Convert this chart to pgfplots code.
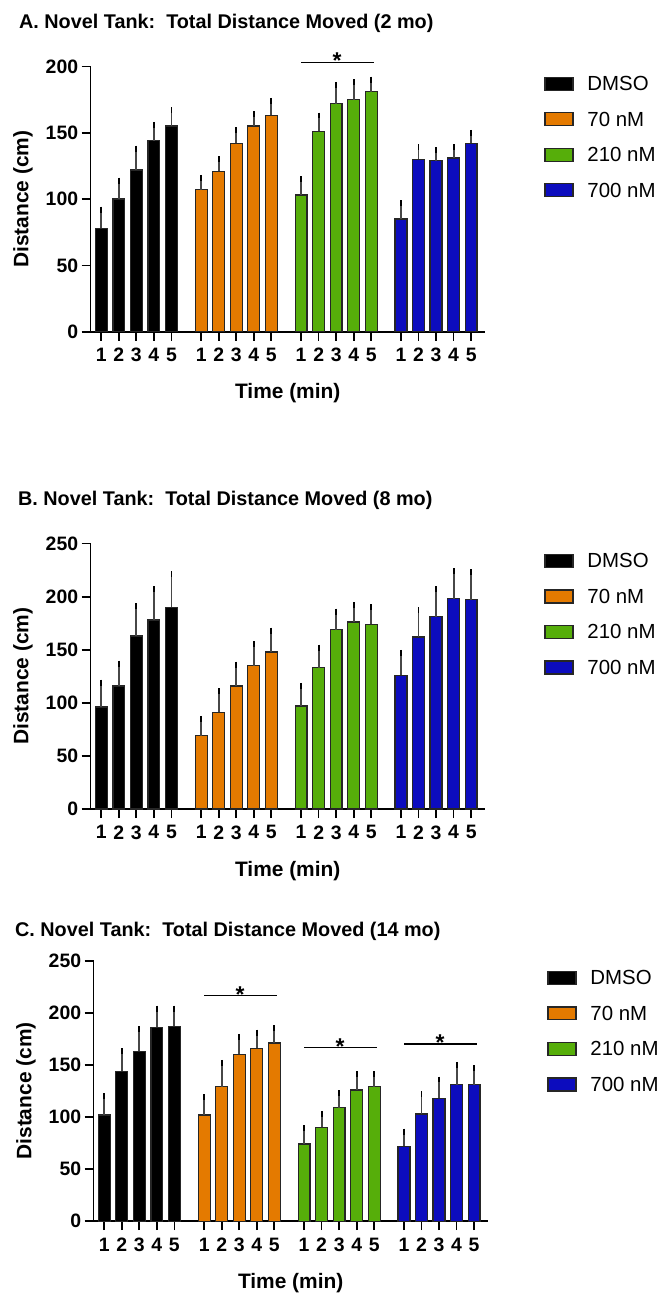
\documentclass[border=0pt]{standalone}
\usepackage{fontspec}
\setmainfont{Liberation Sans}
\setsansfont{Liberation Sans}
\usepackage{pgfplots}
\pgfplotsset{compat=1.18}
\definecolor{cOr}{RGB}{228,122,0}
\definecolor{cGr}{RGB}{86,174,10}
\definecolor{cBl}{RGB}{12,12,190}
\newcommand{\tfont}{\bfseries\fontsize{19.9}{22}\selectfont}
\newcommand{\afont}{\bfseries\fontsize{23}{23}\selectfont}
\pgfplotsset{
  panel/.style={
    scale only axis, width=396pt,
    xmin=-0.61, xmax=21.88, ymin=0,
    axis x line*=bottom, axis y line*=left,
    axis line style={-, line width=1.8pt, black},
    tick align=outside, major tick length=9pt,
    tick style={line width=1.7pt, black},
    xtick={0,1,2,3,4,5.7,6.7,7.7,8.7,9.7,11.4,12.4,13.4,14.4,15.4,17.1,18.1,19.1,20.1,21.1},
    xticklabels={1,2,3,4,5,1,2,3,4,5,1,2,3,4,5,1,2,3,4,5},
    /pgf/number format/assume math mode=true,
    tick label style={font=\bfseries\fontsize{19.5}{19.5}\selectfont},
    xticklabel style={yshift=-4pt},
    xlabel={Time (min)}, ylabel={Distance (cm)},
    label style={font=\bfseries\fontsize{21}{21}\selectfont},
    ylabel style={at={(axis description cs:-0.1717,0.5)}, anchor=center},
    clip=false,
    legend style={at={(1.1508,0.962)}, anchor=north west, draw=none, fill=none, inner sep=0pt, row sep=21.5pt,
      font=\fontsize{20.5}{20.5}\selectfont, nodes={inner sep=0pt, text height=14pt, text depth=0pt},
      /tikz/every odd column/.append style={column sep=14pt}},
    legend cell align=left,
    legend image code/.code={\draw[line width=1.2pt,##1] (0pt,-6.5pt) rectangle (28pt,6.5pt);},
  },
  bars/.style={ybar, bar width=0.68, bar shift=0pt, draw=black!85, line width=1.3pt, fill=#1,
     error bars/.cd, y dir=plus, y explicit,
     error bar style={line width=1.8pt, black!72},
     error mark options={line width=1.8pt, black, mark size=3pt}},
}
\begin{document}
\begin{tikzpicture}
\path (0pt,0pt) rectangle (661pt,1296pt);
% ---------------- Panel A ----------------
\node[anchor=base west, font=\tfont, inner sep=0pt] at (19pt,1267.5pt) {A. Novel Tank:\ \ Total Distance Moved (2 mo)};
\begin{axis}[panel, at={(91pt,962.7pt)}, anchor=south west, height=266.6pt, ymax=200, ytick={0,50,...,200},
  xlabel style={at={(axis description cs:0.5,-0.2326)}, anchor=center}]
\addplot[bars=black] coordinates {(0,78) +- (0,14) (1,100) +- (0,14) (2,122) +- (0,16) (3,144) +- (0,12) (4,155) +- (0,12)};
\addplot[bars=cOr] coordinates {(5.7,107) +- (0,9) (6.7,121) +- (0,9) (7.7,142) +- (0,10) (8.7,155) +- (0,9) (9.7,163) +- (0,11)};
\addplot[bars=cGr] coordinates {(11.4,103) +- (0,12) (12.4,151) +- (0,12) (13.4,172) +- (0,14) (14.4,175) +- (0,13) (15.4,181) +- (0,9)};
\addplot[bars=cBl] coordinates {(17.1,85) +- (0,12) (18.1,130) +- (0,9) (19.1,129) +- (0,8) (20.1,131) +- (0,8) (21.1,142) +- (0,8)};
\legend{DMSO,70 nM,210 nM,700 nM}
\draw[line width=1.6pt] (axis cs:11.4,203) -- (axis cs:15.55,203);
\node[font=\afont, anchor=base, inner sep=0pt, yshift=-6.5pt] at (axis cs:13.45,203) {*};
\end{axis}
% ---------------- Panel B ----------------
\node[anchor=base west, font=\tfont, inner sep=0pt] at (18pt,788pt) {B. Novel Tank:\ \ Total Distance Moved (8 mo)};
\begin{axis}[panel, at={(91pt,483.3pt)}, anchor=south west, height=266.7pt, ymax=250, ytick={0,50,...,250},
  xlabel style={at={(axis description cs:0.5,-0.2326)}, anchor=center}]
\addplot[bars=black] coordinates {(0,96) +- (0,23) (1,116) +- (0,21) (2,163) +- (0,28) (3,178) +- (0,29) (4,190) +- (0,31)};
\addplot[bars=cOr] coordinates {(5.7,69) +- (0,16) (6.7,91) +- (0,20) (7.7,116) +- (0,20) (8.7,135) +- (0,20) (9.7,148) +- (0,20)};
\addplot[bars=cGr] coordinates {(11.4,97) +- (0,19) (12.4,133) +- (0,19) (13.4,169) +- (0,17) (14.4,176) +- (0,16) (15.4,174) +- (0,16)};
\addplot[bars=cBl] coordinates {(17.1,126) +- (0,21) (18.1,162) +- (0,25) (19.1,181) +- (0,26) (20.1,198) +- (0,26) (21.1,197) +- (0,26)};
\legend{DMSO,70 nM,210 nM,700 nM}
\end{axis}
% ---------------- Panel C ----------------
\node[anchor=base west, font=\tfont, inner sep=0pt] at (15pt,355pt) {C. Novel Tank:\ \ Total Distance Moved (14 mo)};
\begin{axis}[panel, at={(94pt,69.3pt)}, anchor=south west, height=261.7pt, ymax=250, ytick={0,50,...,250},
  xlabel style={at={(axis description cs:0.5,-0.2369)}, anchor=center}]
\addplot[bars=black] coordinates {(0,102) +- (0,18) (1,144) +- (0,19) (2,163) +- (0,21) (3,186) +- (0,18) (4,187) +- (0,17)};
\addplot[bars=cOr] coordinates {(5.7,102) +- (0,17) (6.7,129) +- (0,23) (7.7,160) +- (0,17) (8.7,166) +- (0,15) (9.7,171) +- (0,14)};
\addplot[bars=cGr] coordinates {(11.4,74) +- (0,15) (12.4,90) +- (0,13) (13.4,109) +- (0,14) (14.4,126) +- (0,15) (15.4,129) +- (0,12)};
\addplot[bars=cBl] coordinates {(17.1,72) +- (0,14) (18.1,103) +- (0,19) (19.1,118) +- (0,18) (20.1,131) +- (0,19) (21.1,131) +- (0,16)};
\legend{DMSO,70 nM,210 nM,700 nM}
\draw[line width=1.6pt] (axis cs:5.7,216.5) -- (axis cs:9.85,216.5);
\node[font=\afont, anchor=base, inner sep=0pt, yshift=-6.5pt] at (axis cs:7.75,216.5) {*};
\draw[line width=1.6pt] (axis cs:11.4,166.6) -- (axis cs:15.55,166.6);
\node[font=\afont, anchor=base, inner sep=0pt, yshift=-6.5pt] at (axis cs:13.45,166.6) {*};
\draw[line width=1.6pt] (axis cs:17.1,170) -- (axis cs:21.25,170);
\node[font=\afont, anchor=base, inner sep=0pt, yshift=-6.5pt] at (axis cs:19.15,170) {*};
\end{axis}
\end{tikzpicture}
\end{document}
